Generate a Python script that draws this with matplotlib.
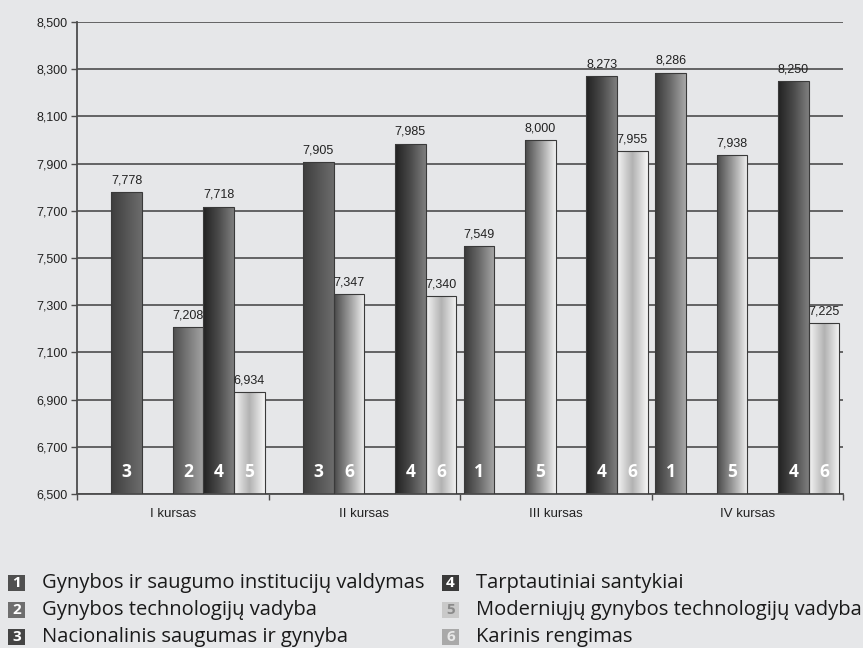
import numpy as np
import matplotlib
matplotlib.use("Agg")
import matplotlib.pyplot as plt
from matplotlib.colors import LinearSegmentedColormap
from matplotlib.patches import Rectangle

nan = np.nan

groups = ["I kursas", "II kursas", "III kursas", "IV kursas"]

# one list per bar slot inside a group (values and programme number shown in the bar)
slot0_values = [nan, nan, 7.549, 8.286]
slot0_progs = [None, None, 1, 1]
slot1_values = [7.778, 7.905, nan, nan]
slot1_progs = [3, 3, None, None]
slot2_values = [nan, 7.347, 8.000, 7.938]
slot2_progs = [None, 6, 5, 5]
slot3_values = [7.208, nan, nan, nan]
slot3_progs = [2, None, None, None]
slot4_values = [7.718, 7.985, 8.273, 8.250]
slot4_progs = [4, 4, 4, 4]
slot5_values = [6.934, 7.340, 7.955, 7.225]
slot5_progs = [5, 6, 6, 6]

programmes = [
    "Gynybos ir saugumo institucijų valdymas",
    "Gynybos technologijų vadyba",
    "Nacionalinis saugumas ir gynyba",
    "Tarptautiniai santykiai",
    "Moderniųjų gynybos technologijų vadyba",
    "Karinis rengimas",
]

slot_values = [slot0_values, slot1_values, slot2_values, slot3_values, slot4_values, slot5_values]
slot_progs = [slot0_progs, slot1_progs, slot2_progs, slot3_progs, slot4_progs, slot5_progs]

# horizontal gradients per slot (left -> right)
slot_gradients = [
    ["#383838", "#6a6a6a", "#a8a8a8"],
    ["#3e3e3e", "#555555", "#6c6c6c"],
    ["#4a4a4a", "#9a9a9a", "#f2f2f2"],
    ["#4e4e4e", "#7a7a7a", "#a4a4a4"],
    ["#222222", "#4a4a4a", "#7e7e7e"],
    ["#f4f4f4", "#b2b2b2", "#f6f6f6"],
]

legend_box = ["#505050", "#6e6e6e", "#444444", "#3a3a3a", "#c9c9c9", "#a9a9a9"]
legend_num = ["white", "white", "white", "white", "#8a8a8a", "#e8e8e8"]

BG = "#e6e7e9"
GRID = "#4d4d4d"


def fmt(v):
    return f"{v:.3f}".replace(".", ",")


fig = plt.figure(figsize=(8.63, 6.48), dpi=100, facecolor=BG)
ax = fig.add_axes([77 / 863, 1 - 494 / 648, 766 / 863, 472 / 648])
ax.set_facecolor(BG)

width = 0.16
x = np.arange(len(groups))
for i, (vals, progs) in enumerate(zip(slot_values, slot_progs)):
    pos = x + 0.5 + (i - 2.5) * width
    cmap = LinearSegmentedColormap.from_list(f"s{i}", slot_gradients[i])
    heights = np.array(vals) - 6.5
    bars = ax.bar(pos, heights, width=width, bottom=6.5, facecolor="none",
                  edgecolor="#3a3a3a", linewidth=0.8, zorder=3)
    for b, v, p in zip(bars, vals, progs):
        if np.isnan(v):
            continue
        grad = np.linspace(0, 1, 64).reshape(1, -1)
        im = ax.imshow(grad, cmap=cmap, aspect="auto", zorder=2.5,
                       extent=[b.get_x(), b.get_x() + b.get_width(), 6.5, v],
                       interpolation="bilinear")
        im.set_clip_path(b)
        cx = b.get_x() + b.get_width() / 2
        ax.annotate(fmt(v), (cx, v), xytext=(0, 4), textcoords="offset points",
                    ha="center", va="bottom", fontsize=9, family="Liberation Sans",
                    color="#222222", zorder=5)
        ax.annotate(str(p), (cx, 6.5), xytext=(0, 16), textcoords="offset points",
                    ha="center", va="center", fontsize=12.5, family="Open Sans",
                    fontweight="bold", color="white", zorder=5)

ax.set_xlim(0, len(groups))
ax.set_ylim(6.5, 8.5)
yt = np.round(np.arange(6.5, 8.51, 0.2), 1)
ax.set_yticks(yt)
ax.set_yticklabels([fmt(v) for v in yt], family="Liberation Sans", fontsize=9,
                   color="#222222")
ax.set_xticks(np.arange(len(groups) + 1))
ax.set_xticklabels([])
ax.set_xticks(x + 0.5, minor=True)
ax.set_xticklabels(groups, minor=True, family="Liberation Sans", fontsize=9.5,
                   color="#222222")
ax.tick_params(axis="x", which="major", length=4, width=1, color=GRID, direction="out")
ax.tick_params(axis="x", which="minor", length=0, pad=10)
ax.tick_params(axis="y", length=4, width=1, color=GRID, pad=3)

ax.yaxis.grid(True, color=GRID, linewidth=1.2)
ax.set_axisbelow(True)
for s in ["top", "right"]:
    ax.spines[s].set_visible(False)
for s in ["left", "bottom"]:
    ax.spines[s].set_color(GRID)
    ax.spines[s].set_linewidth(1.3)

# legend drawn by hand: two columns of numbered boxes
W, H = 863, 648
col_x = [8, 442]
row_y = [583, 610, 637]
for k, name in enumerate(programmes):
    cx = col_x[k // 3]
    cy = row_y[k % 3]
    fig.patches.append(Rectangle((cx / W, 1 - (cy + 8) / H), 17 / W, 16 / H,
                                 transform=fig.transFigure, facecolor=legend_box[k],
                                 edgecolor="none"))
    fig.text((cx + 8.5) / W, 1 - cy / H, str(k + 1), ha="center", va="center",
             fontsize=11, family="Open Sans", fontweight="bold", color=legend_num[k])
    fig.text((cx + 34) / W, 1 - cy / H, name, ha="left", va="center",
             fontsize=14.5, family="Open Sans", color="#1a1a1a")

fig.savefig("out.png", dpi=100, facecolor=BG)
